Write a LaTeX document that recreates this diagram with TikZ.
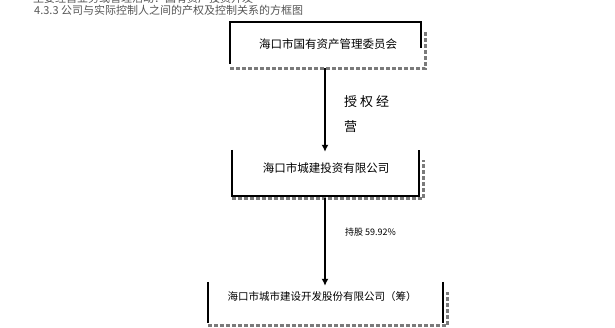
\documentclass[tikz,border=0pt]{standalone}
\usepackage{fontspec}
\setmainfont{Noto Sans CJK SC}
\usetikzlibrary{arrows.meta}
\definecolor{titlegray}{HTML}{555555}
\definecolor{shadowgray}{HTML}{7A7A7A}
\begin{document}
\begin{tikzpicture}[x=1pt,y=-1pt,
  boxnode/.style={draw=none,inner sep=0pt,anchor=center},
  frame/.style={line width=1.9pt,black},
  shade/.style={line width=3pt,shadowgray,dash pattern=on 4pt off 2pt},
  flow/.style={line width=2.8pt,black,-{Latex[length=7pt,width=7pt]}},
  boxtext/.style={font=\fontsize{11.5}{13}\selectfont,inner sep=0pt},
  lbl/.style={inner sep=0pt,anchor=west}]
\useasboundingbox (0,0) rectangle (615,328);
% title lines
\node[lbl,text=titlegray,font=\fontsize{11}{12}\selectfont] (top) at (33,-2) {主要经营业务或管理活动：国有资产投资开发};
\node[lbl,text=titlegray,font=\fontsize{11}{12}\selectfont] (title) at (34,10) {4.3.3 公司与实际控制人之间的产权及控制关系的方框图};
% boxes
\node[boxnode,minimum width=191pt,minimum height=44pt] (b1) at (325.5,44) {};
\node[boxnode,minimum width=187pt,minimum height=46pt] (b2) at (325.5,173) {};
\node[boxnode,minimum width=235pt,minimum height=44pt] (b3) at (325.5,304) {};
% box 1 frame
\draw[shade] ([yshift=-2pt]b1.south west) -- ([xshift=4pt,yshift=-2pt]b1.south east) -- ([xshift=4pt,yshift=-8pt]b1.north east);
\draw[frame] ([yshift=2pt]b1.south west) -- (b1.north west) -- (b1.north east) -- ([yshift=18pt]b1.south east);
\node[boxtext] (t1) at (328,44) {海口市国有资产管理委员会};
% box 2 frame
\draw[shade] ([yshift=-2pt]b2.south west) -- ([xshift=4pt,yshift=-2pt]b2.south east) -- ([xshift=4pt,yshift=-10pt]b2.north east);
\draw[frame] (b2.north west) -- (b2.south west) -- (b2.south east) -- (b2.north east);
\node[boxtext] (t2) at (326,168) {海口市城建投资有限公司};
% box 3 frame
\draw[shade] ([yshift=1pt]b3.south west) -- ([xshift=4pt,yshift=1pt]b3.south east) -- ([xshift=4pt,yshift=-10pt]b3.north east);
\draw[frame] (b3.north west) -- ([yshift=3pt]b3.south west);
\draw[frame] (b3.north east) -- ([yshift=3pt]b3.south east);
\node[boxtext,font=\fontsize{10.5}{12}\selectfont] (t3) at (322,297) {海口市城市建设开发股份有限公司（筹）};
% connectors
\draw[flow] ([xshift=-0.5pt,yshift=-2pt]b1.south) -- ([xshift=-0.5pt,yshift=-2pt]b2.north);
\draw[flow] ([xshift=-0.5pt,yshift=-2pt]b2.south) -- ([xshift=-0.5pt,yshift=-4pt]b3.north);
% labels
\node[lbl,font=\fontsize{13}{25}\selectfont,align=left] (l1) at (344,114) {授 权 经\\营};
\node[lbl,font=\fontsize{9}{10}\selectfont] (l2) at (345,232) {持股 59.92\%};
\end{tikzpicture}
\end{document}
